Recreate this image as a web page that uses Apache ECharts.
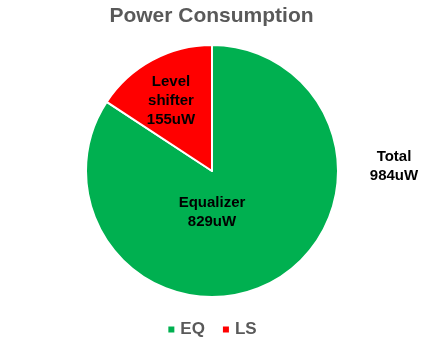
<!DOCTYPE html>
<html><head><meta charset="utf-8">
<script src="https://cdn.jsdelivr.net/npm/echarts@6/dist/echarts.min.js"></script>
<style>html,body{margin:0;padding:0;background:#fff}#c{width:423px;height:338px}</style>
</head><body><div id="c"></div>
<script>
const categories = ['EQ', 'LS'];
const labelNames = ['Equalizer', 'Level\nshifter'];
const values = [829, 155];
const colors = ['#00B050', '#FF0000'];
const totalText = 'Total\n984uW';

const chart = echarts.init(document.getElementById('c'));
const labelPos = [[212, 212], [171, 101]];
chart.setOption({
  animation: false,
  title: { text: 'Power Consumption', left: 'center', top: 1,
    textStyle: { fontFamily: 'Liberation Sans', fontWeight: 'bold', fontSize: 21, color: '#595959' } },
  legend: { top: 316, left: 'center', itemWidth: 8, itemHeight: 8, icon: 'rect', itemGap: 16,
    textStyle: { fontFamily: 'Liberation Sans', fontWeight: 'bold', fontSize: 17, color: '#595959' } },
  graphic: [{ type: 'text', x: 394, y: 166,
    style: { text: totalText, fontFamily: 'Liberation Sans', fontWeight: 'bold', fontSize: 15,
      fill: '#000', align: 'center', verticalAlign: 'middle', lineHeight: 19 } }],
  series: [{
    type: 'pie', center: [212, 171], radius: 126, startAngle: 90, clockwise: true,
    data: categories.map((c, i) => ({ name: c, value: values[i], itemStyle: { color: colors[i] },
      label: { formatter: labelNames[i] + '\n' + values[i] + 'uW' } })),
    itemStyle: { borderColor: '#fff', borderWidth: 2 },
    label: { show: true, position: 'inside', fontFamily: 'Liberation Sans', fontWeight: 'bold',
      fontSize: 15, color: '#000', lineHeight: 19, align: 'center' },
    labelLayout: p => ({ x: labelPos[p.dataIndex][0], y: labelPos[p.dataIndex][1], align: 'center', verticalAlign: 'middle' }),
    emphasis: { disabled: true }
  }]
});
</script></body></html>
